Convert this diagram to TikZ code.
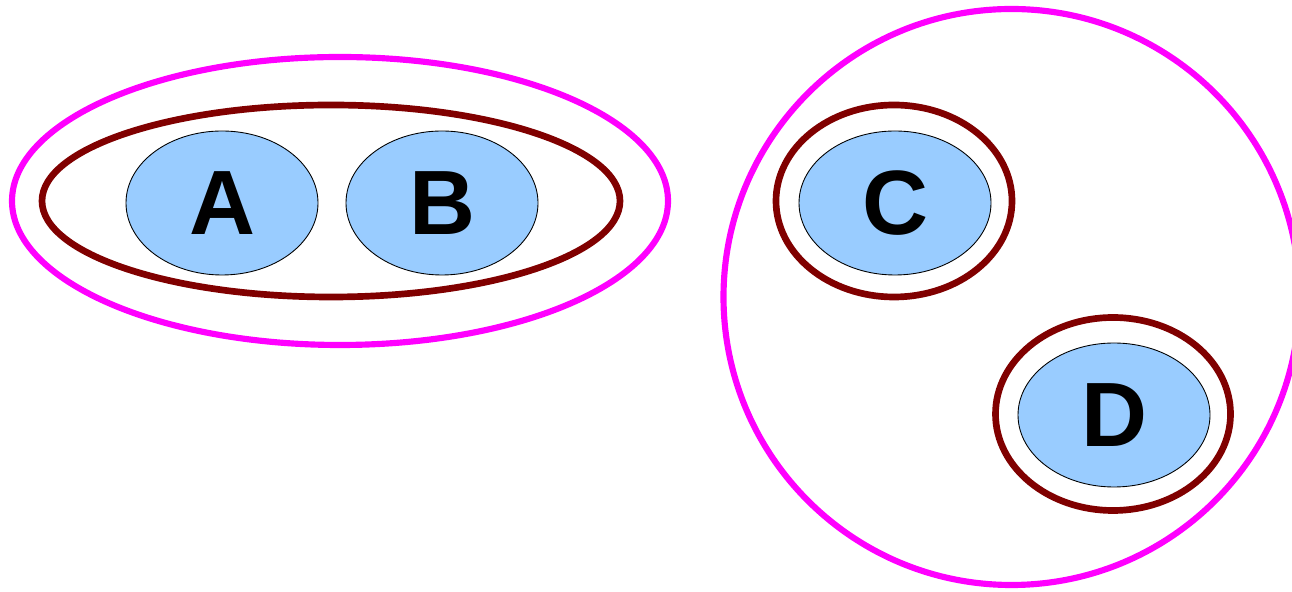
\documentclass[tikz,border=0pt]{standalone}
\usepackage{fontspec}
\setmainfont{Liberation Sans}
\usepackage{tikz}
\usetikzlibrary{shapes.geometric}
\usepackage{xcolor}
\definecolor{elemblue}{HTML}{99CCFF}
\definecolor{setred}{HTML}{800000}
\definecolor{grpmag}{HTML}{FF00FF}

\begin{document}
\begin{tikzpicture}[
  elem/.style={
    ellipse, draw, fill=elemblue, line width=0.5pt,
    minimum width=3.84cm, minimum height=2.88cm, inner sep=0pt,
    font=\fontsize{52}{52}\selectfont\bfseries
  },
  setring/.style={ellipse, draw=setred, line width=3.8pt, inner sep=0pt},
  grpring/.style={ellipse, draw=grpmag, line width=3.5pt, inner sep=0pt}
]
  \useasboundingbox (0,0) rectangle (25.84,11.84);

  % left group: one set holding A and B
  \node[grpring, minimum width=13.12cm, minimum height=5.76cm] (grpL) at (6.80, 7.82) {};
  \node[setring, minimum width=11.56cm, minimum height=3.84cm] (setAB) at (6.62, 7.82) {};
  \node[elem] (A) at (4.44, 7.78) {A};
  \node[elem] (B) at (8.84, 7.78) {B};

  % right group: two singleton sets
  \node[grpring, circle, minimum size=11.52cm] (grpR) at (20.23, 5.90) {};
  \node[setring, minimum width=4.72cm, minimum height=3.84cm] (setC) at (17.88, 7.82) {};
  \node[setring, minimum width=4.70cm, minimum height=3.86cm] (setD) at (22.26, 3.56) {};
  \node[elem] (C) at (17.90, 7.78) {C};
  \node[elem] (D) at (22.28, 3.54) {D};
\end{tikzpicture}
\end{document}
